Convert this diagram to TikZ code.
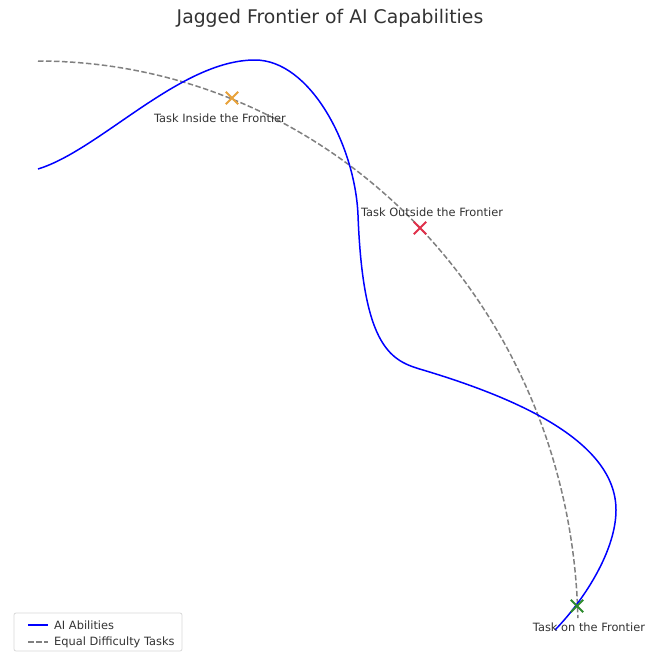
\documentclass[tikz,border=0pt]{standalone}
\usepackage{fontspec}
\setmainfont{DejaVu Sans}
\usetikzlibrary{shapes.misc}
\definecolor{txt}{HTML}{333333}
\definecolor{mkorange}{HTML}{E8A23A}
\definecolor{mkred}{HTML}{E0304A}
\definecolor{mkgreen}{HTML}{2E8B2E}
\tikzset{
  ability/.style={draw=blue, line width=1.5pt, line join=round},
  equaltask/.style={draw=gray, line width=1.5pt, dash pattern=on 5.5pt off 2.5pt},
  taskmark/.style={cross out, draw=#1, line width=1.8pt, minimum size=10.5pt, inner sep=0pt},
  tasklabel/.style={text=txt, font=\fontsize{11.4}{13}\selectfont, inner sep=0pt},
  legendtext/.style={text=txt, font=\fontsize{11.4}{13}\selectfont, anchor=west, inner sep=0pt},
}
\begin{document}
\begin{tikzpicture}[x=1pt,y=-1pt]
\useasboundingbox (0,0) rectangle (658,653);
\fill[white] (0,0) rectangle (658,653);
% title
\node[text=txt, font=\fontsize{18.8}{22}\selectfont, inner sep=0pt] (title) at (330,18) {Jagged Frontier of AI Capabilities};
% equal difficulty arc
\draw[equaltask] plot[domain=90:1.2, samples=100] ({38+540*cos(\x)}, {630-569*sin(\x)});
% AI abilities
\coordinate (a0) at (38,169);
\coordinate (a1) at (255,60);
\coordinate (a2) at (358,215);
\coordinate (a3) at (423,370);
\coordinate (a4) at (616,510);
\coordinate (a5) at (555,630);
\draw[ability] (a0) .. controls (100,150) and (180,60) .. (a1)
  .. controls (310,60) and (355,145) .. (a2)
  .. controls (363,350) and (392,361) .. (a3)
  .. controls (513,397) and (616,440) .. (a4)
  .. controls (616,550) and (585,599) .. (a5);
% markers
\node[taskmark=mkorange] (inside) at (232,98) {};
\node[taskmark=mkred] (outside) at (420,228) {};
\node[taskmark=mkgreen] (onf) at (577,606) {};
\node[tasklabel] (insidelbl) at (220,118) {Task Inside the Frontier};
\node[tasklabel] (outsidelbl) at (432,212) {Task Outside the Frontier};
\node[tasklabel] (onflbl) at (589,627) {Task on the Frontier};
% legend
\draw[draw=black!15, fill=white, rounded corners=2pt, line width=0.8pt] (14,613) rectangle (182,651);
\coordinate (la1) at (28,625); \coordinate (la2) at (48,625);
\coordinate (lb1) at (28,642); \coordinate (lb2) at (48,642);
\draw[ability] (la1) -- (la2);
\draw[equaltask] (lb1) -- (lb2);
\node[legendtext] (lega) at (54,625) {AI Abilities};
\node[legendtext] (legb) at (54,642) {Equal Difficulty Tasks};
\end{tikzpicture}
\end{document}
